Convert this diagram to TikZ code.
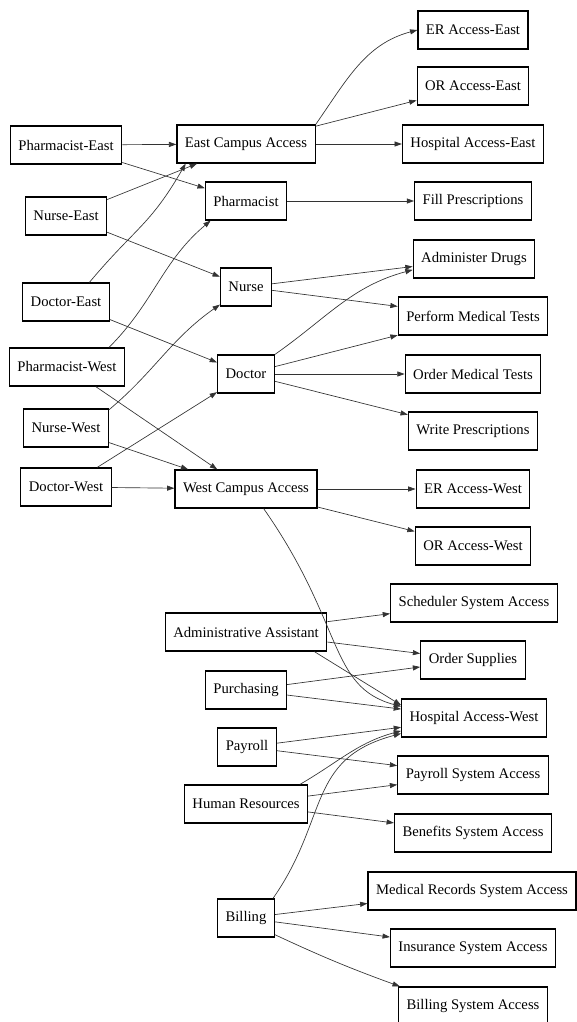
\documentclass[tikz,border=0pt]{standalone}
\usepackage{fontspec}
\setmainfont{Liberation Serif}
\usetikzlibrary{arrows.meta}

\begin{document}
\begin{tikzpicture}[
x=0.75pt, y=-0.75pt,
font=\fontsize{11}{13}\selectfont,
box/.style={draw, line width=0.9pt, align=center, minimum height=28.5pt, inner xsep=6pt},
arrow/.style={-{Triangle[length=5.5pt,width=3.8pt]}, draw=black!80, line width=0.5pt}
]
\useasboundingbox (0,0) rectangle (577,1022);

\node[box] (phe) at (66,145) {Pharmacist-East};
\node[box] (nue) at (66,216) {Nurse-East};
\node[box] (doe) at (66,302) {Doctor-East};
\node[box] (phw) at (67,367) {Pharmacist-West};
\node[box] (nuw) at (66,428) {Nurse-West};
\node[box] (dow) at (66,487) {Doctor-West};

\node[box] (eca) at (246,144) {East Campus Access};
\node[box] (pha) at (246,201) {Pharmacist};
\node[box] (nur) at (246,287) {Nurse};
\node[box] (doc) at (246,374) {Doctor};
\node[box] (wca) at (246,489) {West Campus Access};

\node[box] (aa) at (246,632) {Administrative Assistant};
\node[box] (pur) at (246,690) {Purchasing};
\node[box] (pay) at (247,747) {Payroll};
\node[box] (hr) at (246,804) {Human Resources};
\node[box] (bil) at (246,918) {Billing};

\node[box] (ere) at (473,30) {ER Access-East};
\node[box] (ore) at (473,86) {OR Access-East};
\node[box] (hae) at (473,144) {Hospital Access-East};
\node[box] (fil) at (473,201) {Fill Prescriptions};
\node[box] (adm) at (474,259) {Administer Drugs};
\node[box] (pmt) at (473,316) {Perform Medical Tests};
\node[box] (omt) at (473,374) {Order Medical Tests};
\node[box] (wrp) at (473,431) {Write Prescriptions};
\node[box] (erw) at (473,489) {ER Access-West};
\node[box] (orw) at (473,546) {OR Access-West};
\node[box] (sch) at (474,603) {Scheduler System Access};
\node[box] (ord) at (473,660) {Order Supplies};
\node[box] (haw) at (474,718) {Hospital Access-West};
\node[box] (psa) at (473,775) {Payroll System Access};
\node[box] (ben) at (473,833) {Benefits System Access};
\node[box] (mrs) at (472,891) {Medical Records System Access};
\node[box] (ins) at (473,948) {Insurance System Access};
\node[box] (bsa) at (473,1006) {Billing System Access};

\draw[arrow] (phe) -- (eca);
\draw[arrow] (phe) -- (pha);
\draw[arrow] (nue) -- (eca);
\draw[arrow] (nue) -- (nur);
\draw[arrow] (doe.40) to[out=50,in=240,looseness=1.2] (eca.198);
\draw[arrow] (doe) -- (doc);
\draw[arrow] (phw.25) to[out=45,in=220] (pha.209);
\draw[arrow] (phw) -- (wca);
\draw[arrow] (nuw.23) to[out=40,in=215] (nur.214);
\draw[arrow] (nuw) -- (wca);
\draw[arrow] (dow) -- (doc);
\draw[arrow] (dow) -- (wca);

\draw[arrow] (eca.north east) to[out=55,in=195] (ere.west);
\draw[arrow] (eca) -- (ore);
\draw[arrow] (eca) -- (hae);
\draw[arrow] (pha) -- (fil);
\draw[arrow] (nur) -- (adm);
\draw[arrow] (nur) -- (pmt);
\draw[arrow] (doc.north east) to[out=35,in=195] (adm.190);
\draw[arrow] (doc) -- (pmt);
\draw[arrow] (doc) -- (omt);
\draw[arrow] (doc) -- (wrp);
\draw[arrow] (wca) -- (erw);
\draw[arrow] (wca) -- (orw);
\draw[arrow] (wca.-48) to[out=-55,in=165,out looseness=1.5,in looseness=0.8] (haw.171);

\draw[arrow] (aa) -- (sch);
\draw[arrow] (aa) -- (ord);
\draw[arrow] (aa.-16) -- (haw.170);
\draw[arrow] (pur) -- (ord);
\draw[arrow] (pur) -- (haw);
\draw[arrow] (pay) -- (haw);
\draw[arrow] (pay) -- (psa);
\draw[arrow] (hr.20) to[out=30,in=195] (haw.190);
\draw[arrow] (hr) -- (psa);
\draw[arrow] (hr) -- (ben);
\draw[arrow] (bil.36) to[out=55,in=195,looseness=1.2] (haw.192);
\draw[arrow] (bil) -- (mrs);
\draw[arrow] (bil) -- (ins);
\draw[arrow] (bil.-30) to[out=-25,in=160] (bsa.165);
\end{tikzpicture}
\end{document}
